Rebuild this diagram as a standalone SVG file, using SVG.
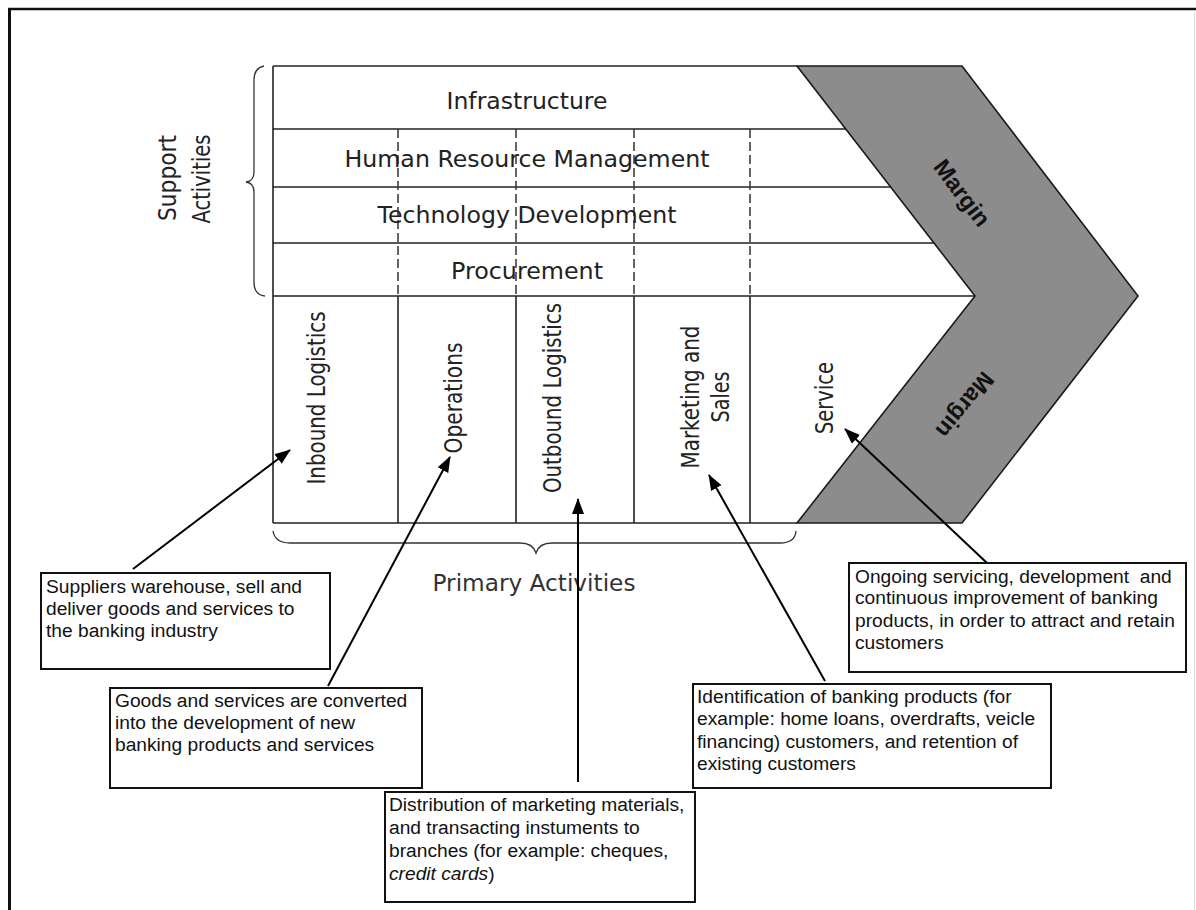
<svg xmlns="http://www.w3.org/2000/svg" width="1196" height="910" viewBox="0 0 1196 910">
<style>
.frame{stroke:#111;fill:none}
.grid{stroke:#222;stroke-width:1.6;fill:none}
.dash{stroke:#333;stroke-width:1.5;stroke-dasharray:9 4;fill:none}
.brace{stroke:#333;stroke-width:1.3;fill:none}
.row{font-family:"DejaVu Sans",Verdana,sans-serif;font-size:22.5px;fill:#222;text-anchor:middle}
.col{font-family:"DejaVu Sans Condensed","DejaVu Sans",sans-serif;font-stretch:condensed;font-size:24px;fill:#222;text-anchor:middle}
.margin{font-family:"Liberation Sans",Arial,sans-serif;font-weight:bold;font-size:23.5px;fill:#111;text-anchor:middle}
.box{fill:#fff;stroke:#111;stroke-width:2}
.bt{font-family:"Liberation Sans",Arial,sans-serif;font-size:19.2px;fill:#111}
.conn{stroke:#000;stroke-width:2;fill:none;marker-end:url(#ah)}
</style>
<defs>
<marker id="ah" markerUnits="userSpaceOnUse" markerWidth="16" markerHeight="12" refX="15" refY="6" orient="auto">
<path d="M0,0 L16,6 L0,12 z" fill="#000"/>
</marker>
</defs>
<rect width="1196" height="910" fill="#fff"/>
<g id="frame">
<line class="frame" x1="8" y1="9" x2="1196" y2="9" stroke-width="2.5"/>
<line class="frame" x1="9.5" y1="8" x2="9.5" y2="910" stroke-width="3"/>
<line x1="1194.5" y1="10" x2="1194.5" y2="910" stroke="#ddd" stroke-width="1"/>
</g>
<g id="value-chain-table">
<line class="grid" x1="273" y1="66" x2="797" y2="66"/>
<line class="grid" x1="273" y1="66" x2="273" y2="523"/>
<line class="grid" x1="273" y1="523" x2="797" y2="523"/>
<line class="grid" x1="273" y1="129" x2="846" y2="129"/>
<line class="grid" x1="273" y1="187" x2="891" y2="187"/>
<line class="grid" x1="273" y1="243" x2="934" y2="243"/>
<line class="grid" x1="273" y1="296" x2="975" y2="296"/>
<line class="dash" x1="398" y1="129" x2="398" y2="296"/>
<line class="dash" x1="516" y1="129" x2="516" y2="296"/>
<line class="dash" x1="634" y1="129" x2="634" y2="296"/>
<line class="dash" x1="750" y1="129" x2="750" y2="296"/>
<line class="grid" x1="398" y1="296" x2="398" y2="523"/>
<line class="grid" x1="516" y1="296" x2="516" y2="523"/>
<line class="grid" x1="634" y1="296" x2="634" y2="523"/>
<line class="grid" x1="750" y1="296" x2="750" y2="523"/>
</g>
<g id="margin">
<polygon points="797,66 962,66 1138,296 962,523 797,523 975,296" fill="#8c8c8c" stroke="#1a1a1a" stroke-width="1.6"/>
<text class="margin" transform="translate(962,193) rotate(53)" y="8">Margin</text>
<text class="margin" transform="translate(965,405) rotate(129)" y="8">Margin</text>
</g>
<g id="support-rows">
<text class="row" x="527" y="109" textLength="161" lengthAdjust="spacingAndGlyphs">Infrastructure</text>
<text class="row" x="527" y="167" textLength="365" lengthAdjust="spacingAndGlyphs">Human Resource Management</text>
<text class="row" x="527" y="223" textLength="299" lengthAdjust="spacingAndGlyphs">Technology Development</text>
<text class="row" x="527" y="279" textLength="152" lengthAdjust="spacingAndGlyphs">Procurement</text>
</g>
<g id="primary-columns">
<text class="col" transform="translate(325,398) rotate(-90)" textLength="173" lengthAdjust="spacingAndGlyphs">Inbound Logistics</text>
<text class="col" transform="translate(462,398) rotate(-90)" textLength="111" lengthAdjust="spacingAndGlyphs">Operations</text>
<text class="col" transform="translate(561,398) rotate(-90)" textLength="190" lengthAdjust="spacingAndGlyphs">Outbound Logistics</text>
<text class="col" transform="translate(699,397) rotate(-90)" textLength="143" lengthAdjust="spacingAndGlyphs">Marketing and</text>
<text class="col" transform="translate(729,397) rotate(-90)" textLength="51" lengthAdjust="spacingAndGlyphs">Sales</text>
<text class="col" transform="translate(833,398) rotate(-90)" textLength="72" lengthAdjust="spacingAndGlyphs">Service</text>
</g>
<g id="support-activities">
<path class="brace" d="M264,66 Q254,68 254,80 L254,172 Q254,181 246,182 Q254,183 254,192 L254,282 Q254,295 265,296"/>
<text class="col" transform="translate(176,178) rotate(-90)" font-size="25" textLength="86" lengthAdjust="spacingAndGlyphs">Support</text>
<text class="col" transform="translate(210,179) rotate(-90)" font-size="25" textLength="89" lengthAdjust="spacingAndGlyphs">Activities</text>
</g>
<g id="primary-activities">
<path class="brace" d="M273,531 Q275,543 290,543 L520,543 Q533,543 536,553 Q539,543 552,543 L780,543 Q795,543 796,531"/>
<text x="534" y="591" font-family="'DejaVu Sans',Verdana,sans-serif" font-size="23" fill="#333" text-anchor="middle" textLength="203" lengthAdjust="spacingAndGlyphs">Primary Activities</text>
</g>
<g id="connectors">
<line class="conn" x1="133" y1="569" x2="290" y2="450"/>
<line class="conn" x1="328" y1="686" x2="450" y2="457"/>
<line class="conn" x1="578" y1="782" x2="578" y2="499"/>
<line class="conn" x1="825" y1="681" x2="709" y2="475"/>
<line class="conn" x1="987" y1="563" x2="845" y2="429"/>
</g>
<g id="box-inbound">
<rect class="box" x="41" y="573" width="289" height="96"/>
<text class="bt" x="46" y="593">Suppliers warehouse, sell and</text>
<text class="bt" x="46" y="615">deliver goods and services to</text>
<text class="bt" x="46" y="637">the banking industry</text>
</g>
<g id="box-operations">
<rect class="box" x="110" y="688" width="312" height="100"/>
<text class="bt" x="115" y="707">Goods and services are converted</text>
<text class="bt" x="115" y="729">into the development of new</text>
<text class="bt" x="115" y="751">banking products and services</text>
</g>
<g id="box-outbound">
<rect class="box" x="385" y="792" width="310" height="110"/>
<text class="bt" x="389" y="811">Distribution of marketing materials,</text>
<text class="bt" x="389" y="834">and transacting instuments to</text>
<text class="bt" x="389" y="857">branches (for example: cheques,</text>
<text class="bt" x="389" y="880"><tspan font-style="italic">credit cards</tspan>)</text>
</g>
<g id="box-marketing">
<rect class="box" x="693" y="684" width="358" height="104"/>
<text class="bt" x="697" y="703">Identification of banking products (for</text>
<text class="bt" x="697" y="725">example: home loans, overdrafts, veicle</text>
<text class="bt" x="697" y="748">financing) customers, and retention of</text>
<text class="bt" x="697" y="770">existing customers</text>
</g>
<g id="box-service">
<rect class="box" x="849" y="563" width="337" height="109"/>
<text class="bt" x="855" y="583" xml:space="preserve">Ongoing servicing, development  and</text>
<text class="bt" x="855" y="604">continuous improvement of banking</text>
<text class="bt" x="855" y="627">products, in order to attract and retain</text>
<text class="bt" x="855" y="649">customers</text>
</g>
</svg>
